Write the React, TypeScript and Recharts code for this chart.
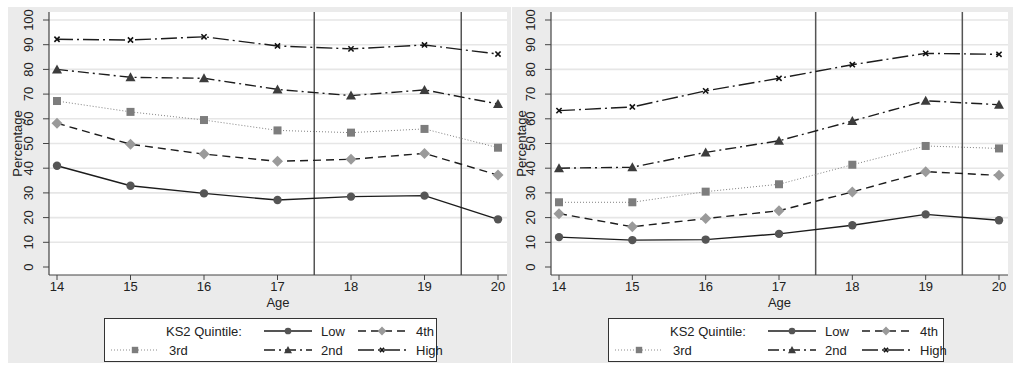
import React from 'react';
import { LineChart, Line, XAxis, YAxis, CartesianGrid, ReferenceLine } from 'recharts';

// ages on the x axis, y ticks, and the two cut-off ages
const ages = [14, 15, 16, 17, 18, 19, 20];
const yTicks = [0, 10, 20, 30, 40, 50, 60, 70, 80, 90, 100];
const gridValues = [10, 20, 30, 40, 50, 60, 70, 80, 90, 100];
const cutoffs = [17.5, 19.5];

// left panel
const leftLow = [41.0, 32.9, 29.8, 27.1, 28.5, 28.9, 19.3];
const left4th = [58.2, 49.7, 45.7, 42.8, 43.6, 46.0, 37.2];
const left3rd = [67.2, 62.8, 59.5, 55.3, 54.4, 55.9, 48.3];
const left2nd = [80.0, 76.8, 76.4, 71.9, 69.4, 71.7, 66.0];
const leftHigh = [92.2, 91.9, 93.2, 89.5, 88.3, 89.9, 86.2];

// right panel
const rightLow = [12.1, 10.9, 11.1, 13.4, 16.9, 21.3, 18.9];
const right4th = [21.6, 16.3, 19.6, 22.8, 30.4, 38.6, 37.1];
const right3rd = [26.2, 26.2, 30.5, 33.5, 41.4, 49.0, 48.0];
const right2nd = [40.0, 40.4, 46.4, 51.1, 59.1, 67.3, 65.7];
const rightHigh = [63.3, 64.8, 71.3, 76.4, 81.9, 86.5, 86.1];

const legendTitle = 'KS2 Quintile:';

type Kind = 'circle' | 'diamond' | 'square' | 'triangle' | 'x';

const styles: Record<string, { stroke: string; width: number; dash?: string; kind: Kind; fill: string }> = {
  Low: { stroke: '#1c1c1c', width: 1.4, kind: 'circle', fill: '#555' },
  '4th': { stroke: '#1c1c1c', width: 1.4, dash: '8 5', kind: 'diamond', fill: '#9a9a9a' },
  '3rd': { stroke: '#808080', width: 1, dash: '1 2', kind: 'square', fill: '#7d7d7d' },
  '2nd': { stroke: '#1c1c1c', width: 1.4, dash: '11 4 2 4', kind: 'triangle', fill: '#3c3c3c' },
  High: { stroke: '#1c1c1c', width: 1.4, dash: '16 4 2 4', kind: 'x', fill: '#111' },
};

const FONT = '"Liberation Sans", Arial, sans-serif';

function Marker({ cx, cy, kind, fill, s = 1 }: { cx?: number; cy?: number; kind: Kind; fill: string; s?: number }) {
  if (cx == null || cy == null) return <g />;
  switch (kind) {
    case 'circle':
      return <circle cx={cx} cy={cy} r={4.2 * s} fill={fill} />;
    case 'diamond': {
      const r = 5.5 * s;
      return <path d={`M${cx},${cy - r}L${cx + r},${cy}L${cx},${cy + r}L${cx - r},${cy}Z`} fill={fill} />;
    }
    case 'square': {
      const r = 4 * s;
      return <rect x={cx - r} y={cy - r} width={2 * r} height={2 * r} fill={fill} />;
    }
    case 'triangle': {
      const r = 5 * s;
      return <path d={`M${cx},${cy - r}L${cx + r},${cy + r * 0.8}L${cx - r},${cy + r * 0.8}Z`} fill={fill} />;
    }
    default: {
      const r = 2.6 * s;
      return (
        <path
          d={`M${cx - r},${cy - r}L${cx + r},${cy + r}M${cx + r},${cy - r}L${cx - r},${cy + r}`}
          stroke={fill}
          strokeWidth={1.6}
        />
      );
    }
  }
}

const YTick = (props: any) => {
  const { x, y, payload } = props;
  const bx = x - 8;
  return (
    <text
      x={bx}
      y={y}
      transform={`rotate(-90 ${bx} ${y})`}
      textAnchor="middle"
      fontSize={13}
      fontFamily={FONT}
      fill="#222"
    >
      {payload.value}
    </text>
  );
};

const YLabel = (props: any) => {
  const vb = props.viewBox || {};
  const bx = (vb.x || 0) + 14;
  const cy = (vb.y || 0) + (vb.height || 0) / 2;
  return (
    <text
      x={bx}
      y={cy}
      transform={`rotate(-90 ${bx} ${cy})`}
      textAnchor="middle"
      fontSize={13}
      fontFamily={FONT}
      fill="#222"
    >
      Percentage
    </text>
  );
};

function LegendSample({ name }: { name: string }) {
  const st = styles[name];
  return (
    <svg width={48} height={12} style={{ display: 'block' }}>
      <line x1={0} y1={6} x2={48} y2={6} stroke={st.stroke} strokeWidth={st.width * 0.9} strokeDasharray={st.dash} />
      <Marker cx={24} cy={6} kind={st.kind} fill={st.fill} s={0.8} />
    </svg>
  );
}

function Legend({ width }: { width: number }) {
  const cols = [6, 159, 253];
  const labelCols = [64, 216, 311];
  const rows = [12, 31];
  // first cell holds the title, then the five groups fill the 3x2 grid
  const cells: (string | null)[] = [null, 'Low', '4th', '3rd', '2nd', 'High'];
  return (
    <div
      style={{
        position: 'absolute',
        left: 96,
        top: 311,
        width,
        height: 44,
        boxSizing: 'border-box',
        background: '#fff',
        border: '1px solid #333',
        fontFamily: FONT,
        fontSize: 13,
        color: '#222',
      }}
    >
      {cells.map((name, i) => {
        const c = i % 3;
        const r = Math.floor(i / 3);
        return (
          <React.Fragment key={i}>
            {name && (
              <div style={{ position: 'absolute', left: cols[c], top: rows[r] - 6 }}>
                <LegendSample name={name} />
              </div>
            )}
            <div
              style={{
                position: 'absolute',
                left: name ? labelCols[c] : labelCols[c] - 3,
                top: rows[r] - 8,
                lineHeight: '17px',
                whiteSpace: 'nowrap',
              }}
            >
              {name ?? legendTitle}
            </div>
          </React.Fragment>
        );
      })}
    </div>
  );
}

function Panel({
  left,
  width,
  axisWidth,
  right,
  legendWidth,
  series,
}: {
  left: number;
  width: number;
  axisWidth: number;
  right: number;
  legendWidth: number;
  series: Record<string, number[]>;
}) {
  const data = ages.map((age, i) => {
    const row: Record<string, number> = { age };
    Object.keys(series).forEach((k) => (row[k] = series[k][i]));
    return row;
  });
  const order = ['3rd', '4th', 'Low', '2nd', 'High'];
  return (
    <div style={{ position: 'absolute', left, top: 7, width, height: 356, background: '#ebebeb' }}>
      <LineChart width={width} height={310} data={data} margin={{ top: 5, right, left: 0, bottom: 0 }}>
        <CartesianGrid
          vertical={false}
          horizontalValues={gridValues}
          fill="#fff"
          stroke="#e6e6e6"
          strokeWidth={1.6}
        />
        <XAxis
          dataKey="age"
          type="number"
          domain={[14, 20]}
          ticks={ages}
          interval={0}
          padding={{ left: 8, right: 9 }}
          height={42}
          tickSize={5}
          axisLine={{ stroke: '#444', strokeWidth: 1.2 }}
          tickLine={{ stroke: '#444' }}
          tick={{ fontSize: 13, fontFamily: FONT, fill: '#222' }}
          label={{ value: 'Age', position: 'insideBottom', offset: 10, fontSize: 13, fontFamily: FONT, fill: '#222' }}
        />
        <YAxis
          type="number"
          domain={[0, 100]}
          ticks={yTicks}
          interval={0}
          padding={{ top: 8, bottom: 8 }}
          width={axisWidth}
          tickSize={6}
          axisLine={{ stroke: '#444', strokeWidth: 1.2 }}
          tickLine={{ stroke: '#444' }}
          tick={<YTick />}
          label={<YLabel />}
        />
        {cutoffs.map((c) => (
          <ReferenceLine key={c} x={c} stroke="#555" strokeWidth={1.5} />
        ))}
        {order.map((name) => {
          const st = styles[name];
          return (
            <Line
              key={name}
              dataKey={name}
              stroke={st.stroke}
              strokeWidth={st.width}
              strokeDasharray={st.dash}
              isAnimationActive={false}
              dot={(p: any) => <Marker key={`${name}-${p.index}`} cx={p.cx} cy={p.cy} kind={st.kind} fill={st.fill} />}
              activeDot={false}
            />
          );
        })}
      </LineChart>
      <Legend width={legendWidth} />
    </div>
  );
}

export default function App() {
  return (
    <div style={{ position: 'absolute', left: 0, top: 0, width: 1024, height: 373, background: '#fff' }}>
      <Panel
        left={8}
        width={503}
        axisWidth={41}
        right={4}
        legendWidth={333}
        series={{ Low: leftLow, '4th': left4th, '3rd': left3rd, '2nd': left2nd, High: leftHigh }}
      />
      <Panel
        left={512}
        width={501}
        axisWidth={39}
        right={5}
        legendWidth={336}
        series={{ Low: rightLow, '4th': right4th, '3rd': right3rd, '2nd': right2nd, High: rightHigh }}
      />
    </div>
  );
}
